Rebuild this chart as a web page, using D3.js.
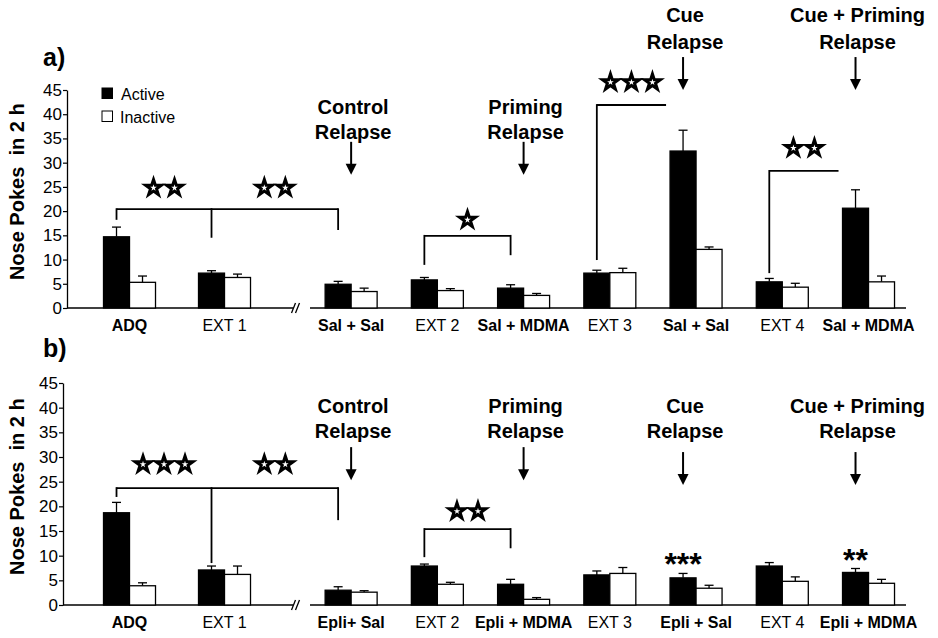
<!DOCTYPE html>
<html>
<head>
<meta charset="utf-8">
<script src="https://cdn.jsdelivr.net/npm/d3@7"></script>
<style>
body { margin: 0; background: #fff; }
svg { font-family: "Liberation Sans", Arial, sans-serif; }
</style>
</head>
<body>
<div id="chart"></div>
<script>
// categories: 2 before the axis break, 7 after it
var leftCats = ["ADQ", "EXT 1"];
var rightCatsA = ["Sal + Sal", "EXT 2", "Sal + MDMA", "EXT 3", "Sal + Sal", "EXT 4", "Sal + MDMA"];
var rightCatsB = ["Epli+ Sal", "EXT 2", "Epli + MDMA", "EXT 3", "Epli + Sal", "EXT 4", "Epli + MDMA"];
var boldCat = [true, false, true, false, true, false, true, false, true];
var yTicks = [0, 5, 10, 15, 20, 25, 30, 35, 40, 45];
var seriesNames = ["Active", "Inactive"];

// panel a) mean and SEM, 9 groups
var activeA = [14.7, 7.2, 4.9, 5.8, 4.1, 7.2, 32.4, 5.4, 20.6];
var activeErrA = [2.0, 0.5, 0.6, 0.5, 0.7, 0.6, 4.3, 0.7, 3.8];
var inactiveA = [5.3, 6.3, 3.4, 3.6, 2.6, 7.3, 12.1, 4.3, 5.4];
var inactiveErrA = [1.3, 0.7, 0.7, 0.4, 0.4, 0.9, 0.5, 0.8, 1.2];

// panel b)
var activeB = [18.7, 7.1, 3.0, 7.9, 4.2, 6.1, 5.5, 7.9, 6.6];
var activeErrB = [2.1, 0.8, 0.7, 0.4, 1.0, 0.8, 0.9, 0.7, 0.8];
var inactiveB = [3.9, 6.2, 2.6, 4.2, 1.15, 6.4, 3.4, 4.8, 4.4];
var inactiveErrB = [0.6, 1.7, 0.3, 0.4, 0.35, 1.2, 0.6, 0.9, 0.8];

// significance brackets: legs are [group, value the leg drops to]
var bracketsA = [
    {legs: [[0, 18.2], [1, 14.5], [2, 16.1]], top: 20.4},
    {legs: [[3, 8.9], [4, 10.9]], top: 14.9},
    {legs: [[5, 9.9], [6, null]], top: 41.9},
    {legs: [[7, 7.2], [8, null]], top: 28.3}
];
var starsA = [
    {legs: [0, 1], n: 2, y: 25.0, bracket: 0},
    {legs: [1, 2], n: 2, y: 25.0, bracket: 0},
    {legs: [0, 1], n: 1, y: 18.4, bracket: 1},
    {legs: [0, 1], n: 3, y: 46.8, bracket: 2},
    {legs: [0, 1], n: 2, y: 33.2, bracket: 3}
];
var bracketsB = [
    {legs: [[0, 21.9], [1, 8.5], [2, 17.2]], top: 23.7},
    {legs: [[3, 9.7], [4, 11.5]], top: 15.4}
];
var starsB = [
    {legs: [0, 1], n: 3, y: 28.7, bracket: 0},
    {legs: [1, 2], n: 2, y: 28.7, bracket: 0},
    {legs: [0, 1], n: 2, y: 19.2, bracket: 1}
];
var asterisksB = [{g: 6, text: "***", y: 9.7}, {g: 8, text: "**", y: 10.5}];

var relapseLabels = [["Control", "Relapse"], ["Priming", "Relapse"], ["Cue", "Relapse"], ["Cue + Priming", "Relapse"]];
var relapseGroups = [2, 4, 6, 8];
var relapseOnActive = [false, false, true, true];

var width = 938, height = 638;
var barW = 26;

var svg = d3.select('#chart').
append('svg').
attr('width', width).
attr('height', height);

// x scales, one each side of the break
var xLeft = d3.scalePoint().domain([0, 1]).range([67, 295]).padding(0.7).align(0.47);
var xRight = d3.scalePoint().domain(d3.range(7)).range([310, 905]).padding(0.45).align(0.53);

function groupX(i) {
    return i < 2 ? xLeft(i) : xRight(i - 2);
}
function activeX(i) {
    return groupX(i) - barW / 2;
}

var panels = [
    {
        name: "a)", nameY: 66, top: 90, bottom: 308, axisX: 67,
        labels: leftCats.concat(rightCatsA),
        series: [activeA, inactiveA], errs: [activeErrA, inactiveErrA],
        brackets: bracketsA, stars: starsA, asterisks: [],
        relText: [[41.5, 36.3], [41.5, 36.3], [60.5, 54.9], [60.5, 54.9]],
        relArrow: [[34.3, 27.5], [34.3, 27.5], [51.8, 45.0], [51.8, 45.0]],
        legend: true
    },
    {
        name: "b)", nameY: 357, top: 383, bottom: 605, axisX: 63,
        labels: leftCats.concat(rightCatsB),
        series: [activeB, inactiveB], errs: [activeErrB, inactiveErrB],
        brackets: bracketsB, stars: starsB, asterisks: asterisksB,
        relText: [[40.3, 35.4], [40.3, 35.4], [40.3, 35.4], [40.3, 35.4]],
        relArrow: [[32.0, 25.3], [32.0, 25.3], [31.0, 24.3], [31.0, 24.3]],
        legend: false
    }
];

panels.forEach(drawPanel);

function drawPanel(p) {
    var g = svg.append('g');
    var y = d3.scaleLinear().domain([0, 45]).range([p.bottom, p.top]);

    // panel letter
    g.append('text').
    attr('x', 43).
    attr('y', p.nameY).
    attr('font-size', 25).
    attr('font-weight', 'bold').
    text(p.name);

    // y axis
    var yAxis = d3.axisLeft(y).tickValues(yTicks).tickSize(4).tickSizeOuter(0).tickPadding(1);
    var ax = g.append('g').
    attr('transform', 'translate(' + p.axisX + ',0)').
    call(yAxis);
    ax.select('.domain').attr('stroke', '#000').attr('stroke-width', 1.3);
    ax.selectAll('.tick line').attr('stroke', '#000').attr('stroke-width', 1.2);
    ax.selectAll('.tick text').
    attr('font-size', 17).
    attr('fill', '#000').
    attr('font-family', '"Liberation Sans", Arial, sans-serif');

    g.append('text').
    attr('transform', 'translate(24,' + y(24) + ') rotate(-90)').
    attr('text-anchor', 'middle').
    attr('font-size', 20).
    attr('font-weight', 'bold').
    style('white-space', 'pre').
    text('Nose Pokes  in 2 h');

    // baseline with break
    var base = y(0);
    g.append('line').
    attr('x1', p.axisX).attr('x2', 293).
    attr('y1', base).attr('y2', base).
    attr('stroke', '#000').attr('stroke-width', 1.5);
    g.append('line').
    attr('x1', 310).attr('x2', 906).
    attr('y1', base).attr('y2', base).
    attr('stroke', '#000').attr('stroke-width', 1.5);
    [293.5, 297.5].forEach(function(bx) {
        g.append('line').
        attr('x1', bx - 2).attr('x2', bx + 2).
        attr('y1', base + 5).attr('y2', base - 5).
        attr('stroke', '#000').attr('stroke-width', 1.3);
    });

    // bars
    p.series.forEach(function(vals, s) {
        var errs = p.errs[s];
        var bx = function(i) { return s === 0 ? groupX(i) - barW : groupX(i); };
        var cx = function(i) { return bx(i) + barW / 2; };

        g.selectAll('.err' + s).
        data(vals).
        enter().append('line').
        attr('x1', function(d, i) { return cx(i); }).
        attr('x2', function(d, i) { return cx(i); }).
        attr('y1', function(d) { return y(d); }).
        attr('y2', function(d, i) { return y(d + errs[i]); }).
        attr('stroke', '#000').attr('stroke-width', 1.3);

        g.selectAll('.cap' + s).
        data(vals).
        enter().append('line').
        attr('x1', function(d, i) { return cx(i) - 4.5; }).
        attr('x2', function(d, i) { return cx(i) + 4.5; }).
        attr('y1', function(d, i) { return y(d + errs[i]); }).
        attr('y2', function(d, i) { return y(d + errs[i]); }).
        attr('stroke', '#000').attr('stroke-width', 1.3);

        g.selectAll('.bar' + s).
        data(vals).
        enter().append('rect').
        attr('x', function(d, i) { return bx(i); }).
        attr('y', function(d) { return y(d); }).
        attr('width', barW).
        attr('height', function(d) { return y(0) - y(d); }).
        attr('fill', s === 0 ? '#000' : '#fff').
        attr('stroke', '#000').
        attr('stroke-width', 1.3);
    });

    // category labels
    g.selectAll('.xlab').
    data(p.labels).
    enter().append('text').
    attr('x', function(d, i) { return groupX(i); }).
    attr('y', base + 23).
    attr('text-anchor', 'middle').
    attr('font-size', 16).
    attr('font-weight', function(d, i) { return boldCat[i] ? 'bold' : 'normal'; }).
    text(function(d) { return d; });

    // brackets
    var legX = function(leg) {
        return leg[1] === null ? groupX(leg[0]) - barW - 4 : activeX(leg[0]);
    };
    p.brackets.forEach(function(b) {
        var top = y(b.top);
        var xs = b.legs.map(legX);
        g.append('line').
        attr('x1', d3.min(xs)).attr('x2', d3.max(xs)).
        attr('y1', top).attr('y2', top).
        attr('stroke', '#000').attr('stroke-width', 1.8);
        b.legs.forEach(function(leg, k) {
            if (leg[1] === null) return;
            g.append('line').
            attr('x1', xs[k]).attr('x2', xs[k]).
            attr('y1', top - 0.9).attr('y2', y(leg[1])).
            attr('stroke', '#000').attr('stroke-width', 1.8);
        });
    });

    var star = d3.symbol().type(d3.symbolStar).size(78);
    p.stars.forEach(function(st) {
        var b = p.brackets[st.bracket];
        var mid = (legX(b.legs[st.legs[0]]) + legX(b.legs[st.legs[1]])) / 2;
        d3.range(st.n).forEach(function(k) {
            g.append('path').
            attr('d', star).
            attr('transform', 'translate(' + (mid + (k - (st.n - 1) / 2) * 21) + ',' + (y(st.y) + 1) + ')').
            attr('fill', '#fff').
            attr('stroke', '#000').
            attr('stroke-width', 3).
            attr('stroke-linejoin', 'miter');
        });
    });

    p.asterisks.forEach(function(a) {
        g.append('text').
        attr('x', activeX(a.g)).
        attr('y', y(a.y) + 18).
        attr('text-anchor', 'middle').
        attr('font-size', 32).
        attr('font-weight', 'bold').
        text(a.text);
    });

    // relapse labels and arrows
    relapseLabels.forEach(function(lines, k) {
        var ax0 = relapseOnActive[k] ? activeX(relapseGroups[k]) : groupX(relapseGroups[k]);
        lines.forEach(function(t, j) {
            g.append('text').
            attr('x', ax0 + 2).
            attr('y', y(p.relText[k][j])).
            attr('dy', '0.36em').
            attr('text-anchor', 'middle').
            attr('font-size', 20).
            attr('font-weight', 'bold').
            text(t);
        });
        var a0 = y(p.relArrow[k][0]), a1 = y(p.relArrow[k][1]);
        g.append('line').
        attr('x1', ax0).attr('x2', ax0).
        attr('y1', a0).attr('y2', a1 - 9).
        attr('stroke', '#000').attr('stroke-width', 2);
        g.append('path').
        attr('d', 'M' + (ax0 - 5.5) + ',' + (a1 - 11) + 'L' + (ax0 + 5.5) + ',' + (a1 - 11) + 'L' + ax0 + ',' + a1 + 'Z').
        attr('fill', '#000');
    });

    // legend
    if (p.legend) {
        var lg = g.selectAll('.legend').
        data(seriesNames).
        enter().append('g').
        attr('transform', function(d, i) { return 'translate(102,' + (88 + i * 23) + ')'; });
        lg.append('rect').
        attr('width', 10.5).attr('height', 10.5).
        attr('fill', function(d, i) { return i === 0 ? '#000' : '#fff'; }).
        attr('stroke', '#000').attr('stroke-width', 1);
        lg.append('text').
        attr('x', function(d, i) { return i === 0 ? 19 : 18; }).
        attr('y', 6).
        attr('dy', '0.35em').
        attr('font-size', 16).
        text(function(d) { return d; });
    }
}
</script>
</body>
</html>
